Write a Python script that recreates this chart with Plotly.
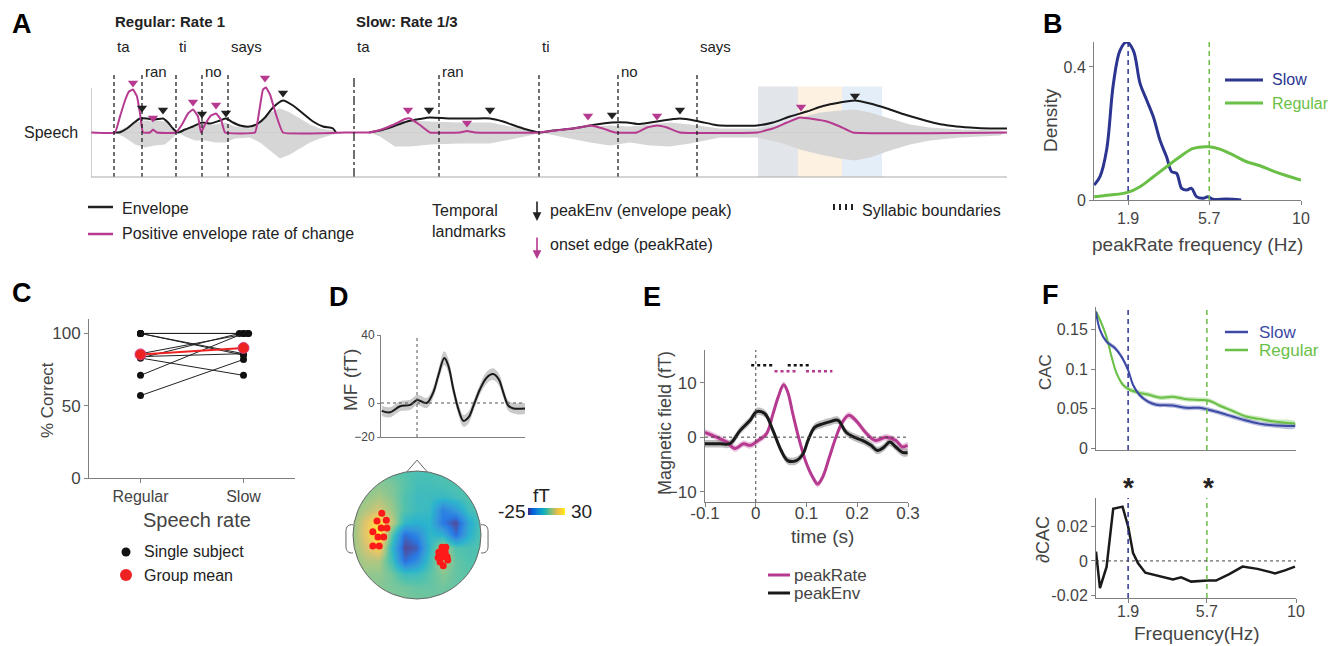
import math
import plotly.graph_objects as go

W, H = 1343, 646
FONT = "Liberation Sans, Arial, Helvetica, sans-serif"
TXT = "#222222"
GTXT = "#444444"
MAG = "#b63a8f"
BLUE_B = "#2c3590"
BLUE_F = "#3c4aa6"
GREEN = "#6abf46"
AXC = "#808080"

# ================= DATA =================
# ---- Panel A (time in ms, amplitude in a.u.) ----
syllables = ["ta", "ran", "ti", "no", "says"]
reg_bounds_ms = [23, 51, 85, 111, 137]
slow_bounds_ms = [263, 348, 448, 527, 606]

reg_env_t = [22, 24, 29, 36, 42, 49, 56, 64, 72, 77, 82, 87, 94, 102, 111, 119, 129, 135, 142, 149, 159, 167, 174, 182, 192, 202, 212, 222, 232, 242, 245]
reg_env = [0, 0, 0.3, 4, 9, 14, 14, 13, 14, 10, 4, 0, 3, 6, 10, 9, 12, 14, 10, 7, 6, 9, 15, 25, 32, 27, 19, 11, 6, 4, 0]
reg_rate_t = [0, 24, 29, 34, 38, 42, 46, 49, 52, 59, 62, 66, 85, 91, 97, 102, 107, 110, 114, 120, 125, 130, 134, 164, 168, 172, 175, 179, 185, 192, 254]
reg_rate = [0, 0, 16, 32, 41, 43, 36, 19, 0, 0, 3, 0, 0, 8, 19, 23, 16, 0, 8, 17, 19, 13, 0, 0, 20, 43, 45, 38, 18, 0, 0]
slow_env_t = [278, 289, 302, 316, 329, 339, 359, 382, 399, 412, 426, 439, 449, 462, 482, 502, 521, 536, 549, 566, 589, 606, 622, 629, 666, 682, 699, 716, 732, 749, 764, 779, 796, 812, 829, 846, 862, 879, 899, 916]
slow_env = [0, 2, 6, 11, 13.5, 15, 14, 14, 14, 11, 6, 2, 0, 2, 4, 7.5, 10, 10, 8.5, 11, 14, 11.5, 8, 7, 7, 10, 16, 21, 26.5, 30, 32, 29, 24, 18.5, 13.5, 9, 6.5, 5, 4, 4]
slow_rate_t = [254, 278, 289, 302, 314, 319, 329, 339, 369, 376, 384, 448, 469, 489, 499, 512, 524, 546, 556, 566, 576, 589, 666, 682, 696, 709, 722, 736, 749, 762, 916]
slow_rate = [0, 0, 2.5, 7.5, 13.5, 14, 7.5, 0, 0, 1.5, 0, 0, 2.5, 5, 7, 4, 0, 0, 5, 7, 5, 0, 0, 4, 10, 15, 13.5, 11, 6, 0, 0]

reg_wave_t = [24, 34, 44, 54, 64, 74, 82, 87, 94, 104, 114, 124, 134, 144, 159, 169, 179, 189, 199, 209, 219, 229, 242, 247]
reg_wave_up = [0, 5, 10, 12, 12, 11, 5, 0, 4, 7, 8, 8, 10, 6, 4, 10, 20, 24, 20, 14, 8, 4, 2, 0]
reg_wave_lo = [0, -5, -12, -15, -13, -12, -5, 0, -4, -8, -8, -10, -10, -6, -5, -10, -18, -26, -22, -16, -10, -6, -2, 0]
slow_wave_t = [278, 289, 304, 319, 339, 369, 399, 419, 439, 449, 469, 499, 519, 539, 559, 579, 599, 629, 666, 689, 709, 729, 749, 764, 779, 799, 819, 839, 869, 909, 916]
slow_wave_up = [0, 3, 10, 12, 11, 10, 10, 6, 2, 0, 3, 6, 7, 6, 8, 10, 8, 4, 4, 8, 15, 20, 22, 23, 20, 14, 8, 5, 3, 2, 0]
slow_wave_lo = [0, -4, -14, -14, -12, -11, -11, -7, -3, 0, -4, -10, -13, -10, -13, -14, -11, -5, -5, -10, -17, -22, -26, -28, -25, -18, -12, -8, -5, -3, 0]

peakenv_t = [51, 72, 111, 135, 192, 338, 399, 521, 589, 764]
peakenv_amp = [24.5, 22.5, 18.5, 19.5, 39.5, 22.5, 22.5, 17.5, 22.5, 36.5]
peakrate_t = [42, 62, 102, 125, 174, 317, 376, 497, 566, 710]
peakrate_amp = [49.5, 14.5, 30.5, 27.5, 54.5, 22.5, 9.5, 16.5, 16.5, 25.5]

win_edges_ms = [667, 707, 751, 791]
win_colors = ["#e2e5ea", "#fdf1e2", "#e4eef8"]

# ---- Panel B ----
b_freq_slow = [0.31, 0.58, 0.89, 1.21, 1.52, 1.83, 2.14, 2.46, 2.77, 3.08, 3.39, 3.70, 3.94, 4.17, 4.41, 4.64, 4.87, 5.10, 5.41, 5.64, 5.88, 6.50, 7.20]
b_dens_slow = [0.045, 0.07, 0.15, 0.35, 0.45, 0.475, 0.45, 0.35, 0.30, 0.25, 0.18, 0.13, 0.085, 0.08, 0.035, 0.03, 0.035, 0.01, 0.005, 0.01, 0.002, 0.003, 0.0]
b_freq_reg = [0.31, 1.05, 1.83, 2.46, 3.08, 3.70, 4.33, 4.95, 5.69, 6.20, 6.83, 7.45, 8.08, 8.70, 9.33, 10.0]
b_dens_reg = [0.01, 0.015, 0.022, 0.04, 0.07, 0.10, 0.13, 0.155, 0.16, 0.153, 0.135, 0.115, 0.103, 0.087, 0.073, 0.06]
rate_slow_hz = 1.9
rate_reg_hz = 5.7

# ---- Panel C ----
c_conditions = ["Regular", "Slow"]
c_reg = [100, 100, 100, 100, 86, 84, 83, 83, 71, 57]
c_slow = [100, 86, 100, 85, 100, 86, 71, 100, 100, 82]
c_slow_jitter = [0, 0, 0.04, 0, 0.05, 0, 0, -0.04, 0, 0]
c_mean = [85.5, 90]

# ---- Panel D ----
d_t = [-0.098, -0.075, -0.047, -0.019, 0.001, 0.027, 0.045, 0.059, 0.076, 0.087, 0.101, 0.115, 0.129, 0.143, 0.157, 0.175, 0.194, 0.211, 0.227, 0.24, 0.254, 0.268, 0.3]
d_mf = [-4.6, -5.5, -1.9, -1.1, 1.8, 0, 6.1, 16, 26.4, 22, 8.1, -3.6, -10.5, -8.5, -1.6, 8.1, 15, 17, 14, 6, -1.6, -3.2, -3.2]
d_sem = [3, 3, 3, 3, 3, 3, 3, 3.5, 4, 4, 3.5, 3.5, 3.5, 3.5, 3, 3, 3.5, 3.5, 3.5, 3, 3, 3, 3]
# topography grid (head coordinates, nose up), values in fT; rows bottom -> top
topo_u = [-1.0, -0.8, -0.6, -0.4, -0.2, 0.0, 0.2, 0.4, 0.6, 0.8, 1.0]
topo_v = [-1.0, -0.8, -0.6, -0.4, -0.2, 0.0, 0.2, 0.4, 0.6, 0.8, 1.0]
topo_ft = [
    [6, 6, 6, 6, 6, 5, 5, 4, 4, 4, 4],
    [6, 7, 7, 6, 5, 4, 4, 5, 4, 3, 3],
    [6, 8, 8, 5, -1, -1, 3, 7, 4, 3, 3],
    [7, 11, 11, 0, -20, -14, 0, 12, 4, 2, 2],
    [8, 15, 22, -3, -25, -22, -3, 11, 2, 1, 2],
    [8, 18, 29, 3, -20, -15, -3, -5, -20, -5, 2],
    [8, 17, 27, 13, -3, -5, -4, -18, -25, -7, 2],
    [7, 11, 15, 9, 2, -1, -2, -16, -10, 0, 2],
    [6, 8, 10, 7, 2, -1, -1, -2, 0, 2, 2],
    [5, 6, 7, 6, 3, 0, 0, 1, 2, 2, 2],
    [3, 3, 5, 3, 2, 1, 1, 2, 2, 2, 2],
]
sens_u = [-0.55, -0.625, -0.48, -0.56, -0.47, -0.69, -0.61, -0.52, -0.69, -0.59,
          0.39, 0.45, 0.34, 0.44, 0.39, 0.47, 0.36, 0.48, 0.41, 0.33]
sens_v = [0.34, 0.22, 0.23, 0.11, 0.11, 0.05, -0.03, -0.03, -0.17, -0.17,
          -0.19, -0.19, -0.27, -0.27, -0.34, -0.34, -0.42, -0.39, -0.48, -0.35]
cbar_ft = [-25, -20, -15, -10, -5, 0, 5, 10, 15, 20, 25, 30]

# ---- Panel E ----
e_t_env = [-0.1, -0.07, -0.051, -0.031, -0.011, 0.002, 0.018, 0.034, 0.05, 0.063, 0.08, 0.093, 0.103, 0.116, 0.132, 0.145, 0.162, 0.178, 0.194, 0.21, 0.227, 0.24, 0.253, 0.264, 0.276, 0.289, 0.299]
e_env = [-1.2, -1.2, -1.2, 1.2, 3.1, 4.7, 4.3, 1.2, -2.45, -4.3, -4.3, -3.1, -0.6, 1.8, 2.45, 2.8, 3.1, 0.9, 0, -0.6, -1.5, -2.45, -1.8, -0.9, -1.8, -2.8, -2.8]
e_t_rate = [-0.1, -0.077, -0.057, -0.041, -0.024, -0.011, 0.005, 0.021, 0.034, 0.044, 0.055, 0.063, 0.073, 0.086, 0.099, 0.112, 0.122, 0.132, 0.145, 0.158, 0.171, 0.183, 0.197, 0.216, 0.236, 0.256, 0.276, 0.289, 0.299]
e_rate = [0.9, 0, -0.9, -2.1, -1.2, -1.5, -0.6, 0.6, 4.3, 7.3, 9.6, 8.3, 4.3, -0.6, -4.6, -7.3, -8.6, -7.3, -3.7, 0, 2.8, 4.0, 3.1, 0.9, -0.6, 0, -0.6, -1.8, -1.5]
e_env_sem = 0.7
e_rate_sem = 0.6
e_sig_env = [(-0.009, 0.034), (0.063, 0.107)]
e_sig_rate = [(0.037, 0.080), (0.099, 0.151)]
e_sig_env_y = 13.2
e_sig_rate_y = 12.1

# ---- Panel F ----
f_freq_slow = [0.35, 0.54, 0.86, 1.26, 1.58, 1.9, 2.14, 2.46, 2.86, 3.26, 4.06, 4.7, 5.34, 5.74, 6.3, 6.94, 7.58, 8.22, 8.86, 9.95]
f_cac_slow = [0.173, 0.150, 0.135, 0.127, 0.116, 0.099, 0.08, 0.067, 0.059, 0.055, 0.054, 0.051, 0.051, 0.049, 0.045, 0.04, 0.035, 0.031, 0.029, 0.028]
f_freq_reg = [0.35, 0.62, 0.86, 1.1, 1.34, 1.66, 1.98, 2.46, 2.86, 3.42, 4.06, 4.7, 5.34, 5.82, 6.3, 6.94, 7.58, 8.22, 8.86, 9.95]
f_cac_reg = [0.173, 0.158, 0.141, 0.116, 0.095, 0.08, 0.074, 0.07, 0.068, 0.064, 0.065, 0.062, 0.061, 0.06, 0.054, 0.047, 0.04, 0.037, 0.034, 0.031]
f_cac_sem = 0.003
f_freq_diff = [0.35, 0.54, 0.86, 1.18, 1.63, 1.9, 2.14, 2.38, 2.73, 3.26, 4.06, 4.46, 4.94, 5.74, 6.14, 6.78, 7.42, 8.14, 8.99, 9.5, 9.95]
f_dcac = [0.0054, -0.0157, -0.0035, 0.0303, 0.0315, 0.0200, 0.0045, -0.0014, -0.0068, -0.0082, -0.0107, -0.0095, -0.012, -0.0114, -0.0114, -0.0076, -0.0033, -0.0046, -0.0072, -0.0053, -0.0033]

# ================= HELPERS =================
def dx(p0, p1):
    return [p0 / W, p1 / W]

def dy(top, bot):
    return [1 - bot / H, 1 - top / H]

def txt(s, x, y, size=16, color=TXT, xa="center", ya="middle", bold=False, angle=0):
    return dict(text=f"<b>{s}</b>" if bold else s, x=x / W, y=1 - y / H, xref="paper", yref="paper",
                showarrow=False, font=dict(size=size, color=color, family=FONT),
                xanchor=xa, yanchor=ya, textangle=angle)

def pline(x0, y0, x1, y1, color, width=1.0, dash=None):
    return dict(type="line", xref="paper", yref="paper", x0=x0 / W, y0=1 - y0 / H, x1=x1 / W, y1=1 - y1 / H,
                line=dict(color=color, width=width, dash=dash))

def dline(ax, x0, y0, x1, y1, color, width=1.0, dash=None, layer="above"):
    return dict(type="line", xref="x" + ax, yref="y" + ax, x0=x0, y0=y0, x1=x1, y1=y1,
                line=dict(color=color, width=width, dash=dash), layer=layer)

def band(x, y, sem, ax, color):
    if not isinstance(sem, list):
        sem = [sem] * len(x)
    up = [a + s for a, s in zip(y, sem)]
    lo = [a - s for a, s in zip(y, sem)]
    return go.Scatter(x=list(x) + list(x)[::-1], y=up + lo[::-1], fill="toself", fillcolor=color,
                      line=dict(width=0, shape="spline"), mode="lines", hoverinfo="skip",
                      xaxis="x" + ax, yaxis="y" + ax)

def axstyle(**kw):
    d = dict(showgrid=False, zeroline=False, showline=True, linecolor=AXC, linewidth=1,
             ticks="outside", ticklen=4, tickcolor=AXC,
             tickfont=dict(size=16, color=GTXT, family=FONT), fixedrange=True)
    d.update(kw)
    return d

traces = []
shapes = []
anns = []

# ================= PANEL A =================
for t, up, lo in [(reg_wave_t, reg_wave_up, reg_wave_lo), (slow_wave_t, slow_wave_up, slow_wave_lo)]:
    traces.append(go.Scatter(x=t + t[::-1], y=up + lo[::-1], fill="toself", fillcolor="#d6d6d6",
                             line=dict(width=0), mode="lines", xaxis="x", yaxis="y"))
traces.append(go.Scatter(x=[0, 916], y=[0, 0], mode="lines", line=dict(color="#cfcfcf", width=1), xaxis="x", yaxis="y"))
for t, v in [(reg_env_t, reg_env), (slow_env_t, slow_env)]:
    traces.append(go.Scatter(x=t, y=v, mode="lines", line=dict(color="#1a1a1a", width=2, shape="spline", smoothing=0.6),
                             xaxis="x", yaxis="y"))
for t, v in [(reg_rate_t, reg_rate), (slow_rate_t, slow_rate)]:
    traces.append(go.Scatter(x=t, y=v, mode="lines", line=dict(color=MAG, width=2, shape="spline", smoothing=0.3),
                             xaxis="x", yaxis="y"))
traces.append(go.Scatter(x=peakenv_t, y=peakenv_amp, mode="markers",
                         marker=dict(symbol="triangle-down", size=9, color="#222222"), xaxis="x", yaxis="y"))
traces.append(go.Scatter(x=peakrate_t, y=peakrate_amp, mode="markers",
                         marker=dict(symbol="triangle-down", size=9, color=MAG), xaxis="x", yaxis="y"))

for i, c in enumerate(win_colors):
    shapes.append(dict(type="rect", xref="x", yref="y", x0=win_edges_ms[i], x1=win_edges_ms[i + 1],
                       y0=-44.5, y1=46, fillcolor=c, line=dict(width=0), layer="below"))
for i, b in enumerate(reg_bounds_ms + slow_bounds_ms):
    dash = "dashdot" if i == 5 else "4px,3px"
    shapes.append(dline("", b, -44.5, b, 57.5, "#111111", 1.2, dash))
shapes.append(dline("", 0, -44.5, 0, 44.5, "#999999", 1))
shapes.append(dline("", -1, -44.5, 916, -44.5, "#aaaaaa", 1))

for bounds in (reg_bounds_ms, slow_bounds_ms):
    for i, (b, s) in enumerate(zip(bounds, syllables)):
        yy = 71 if i in (1, 3) else 46
        anns.append(dict(text=s, x=b + 1, y=1 - yy / H, xref="x", yref="paper", showarrow=False,
                         xanchor="left", yanchor="middle", font=dict(size=15, color=TXT, family=FONT)))
anns.append(txt("Regular: Rate 1", 113, 21, 15, xa="left", bold=True))
anns.append(txt("Slow: Rate 1/3", 354, 21, 15, xa="left", bold=True))
anns.append(txt("Speech", 80, 132, 16, xa="right"))

# A legend
shapes.append(pline(88, 207, 113, 207, "#222222", 2.5))
shapes.append(pline(88, 234, 113, 234, MAG, 2.5))
anns.append(txt("Envelope", 120, 209, 16, xa="left"))
anns.append(txt("Positive envelope rate of change", 120, 234, 16, xa="left"))
anns.append(txt("Temporal", 430, 210, 16, xa="left"))
anns.append(txt("landmarks", 430, 232, 16, xa="left"))
anns.append(txt("peakEnv (envelope peak)", 548, 210, 16, xa="left"))
anns.append(txt("onset edge (peakRate)", 548, 245, 16, xa="left"))
anns.append(txt("Syllabic boundaries", 860, 210, 16, xa="left"))
for xx in (834, 840, 846, 852):
    shapes.append(pline(xx, 204, xx, 210, "#222222", 2))
for (yh, yt, col) in [(221, 200, "#222222"), (259, 236, MAG)]:
    anns.append(dict(x=537 / W, y=1 - yh / H, ax=0, ay=yt - yh, xref="paper", yref="paper",
                     axref="pixel", ayref="pixel", showarrow=True, arrowhead=2, arrowsize=1.1,
                     arrowwidth=1.6, arrowcolor=col, text=""))

# ================= PANEL B =================
traces.append(go.Scatter(x=b_freq_slow, y=b_dens_slow, mode="lines",
                         line=dict(color=BLUE_B, width=3, shape="spline"), xaxis="x2", yaxis="y2"))
traces.append(go.Scatter(x=b_freq_reg, y=b_dens_reg, mode="lines",
                         line=dict(color=GREEN, width=3, shape="spline"), xaxis="x2", yaxis="y2"))
shapes.append(dline("2", rate_slow_hz, 0, rate_slow_hz, 0.475, BLUE_B, 1.5, "5px,4px"))
shapes.append(dline("2", rate_reg_hz, 0, rate_reg_hz, 0.475, GREEN, 1.5, "5px,4px"))
shapes.append(pline(1225, 80, 1263, 80, BLUE_B, 3))
shapes.append(pline(1225, 103, 1263, 103, GREEN, 3))
anns.append(txt("Slow", 1270, 80, 16, BLUE_B, xa="left"))
anns.append(txt("Regular", 1270, 103, 16, GREEN, xa="left"))
anns.append(txt("Density", 1050, 120, 19, GTXT, angle=-90))
anns.append(txt("peakRate frequency (Hz)", 1197, 245, 19, GTXT))

# ================= PANEL C =================
for i in range(len(c_reg)):
    traces.append(go.Scatter(x=[1, 2 + c_slow_jitter[i]], y=[c_reg[i], c_slow[i]], mode="lines+markers",
                             line=dict(color="#222222", width=1), marker=dict(size=7, color="#111111"),
                             xaxis="x3", yaxis="y3"))
traces.append(go.Scatter(x=[1, 2], y=c_mean, mode="lines+markers", line=dict(color="#ee2222", width=2),
                         marker=dict(size=11, color="#ee2222", line=dict(color="#d04080", width=1)),
                         xaxis="x3", yaxis="y3"))
anns.append(txt("% Correct", 47, 400, 17, GTXT, angle=-90))
anns.append(txt("Speech rate", 197, 520, 20, GTXT))
shapes.append(dict(type="circle", xref="paper", yref="paper", x0=121.5 / W, x1=130.5 / W,
                   y0=1 - 556.5 / H, y1=1 - 547.5 / H, fillcolor="#111111", line=dict(width=0)))
shapes.append(dict(type="circle", xref="paper", yref="paper", x0=120 / W, x1=132 / W,
                   y0=1 - 581 / H, y1=1 - 569 / H, fillcolor="#ee2222", line=dict(width=0)))
anns.append(txt("Single subject", 142, 551, 16, xa="left"))
anns.append(txt("Group mean", 142, 575, 16, xa="left"))

# ================= PANEL D =================
traces.append(band(d_t, d_mf, d_sem, "4", "rgba(150,150,150,0.5)"))
traces.append(go.Scatter(x=d_t, y=d_mf, mode="lines", line=dict(color="#1a1a1a", width=2, shape="spline"),
                         xaxis="x4", yaxis="y4"))
shapes.append(dline("4", 0, -20, 0, 40, "#555555", 1, "dot"))
shapes.append(dline("4", -0.1, 0, 0.3, 0, "#555555", 1, "dot"))
anns.append(txt("MF (fT)", 350, 380, 19, GTXT, angle=-90))

parula = [[0.0, "#352A87"], [0.125, "#0363E1"], [0.25, "#1485D4"], [0.375, "#06A7C6"],
          [0.5, "#38B99E"], [0.625, "#92BF73"], [0.75, "#D9BA56"], [0.875, "#FCCE2E"], [1.0, "#F9FB0E"]]
traces.append(go.Heatmap(x=topo_u, y=topo_v, z=topo_ft, zmin=-25, zmax=30, colorscale=parula,
                         zsmooth="best", showscale=False, opacity=0.85, xaxis="x5", yaxis="y5"))
traces.append(go.Scatter(x=sens_u, y=sens_v, mode="markers", marker=dict(size=7, color="#ff1a1a"),
                         xaxis="x5", yaxis="y5"))
# colour bar drawn as its own small heatmap
traces.append(go.Heatmap(x=cbar_ft, y=[0], z=[cbar_ft], zmin=-25, zmax=30, colorscale=parula,
                         zsmooth="best", showscale=False, xaxis="x9", yaxis="y9"))
R = 1.2
circ = [(math.cos(math.radians(a)), math.sin(math.radians(a))) for a in range(0, -361, -5)]
mask = f"M {-R},{-R} L {R},{-R} L {R},{R} L {-R},{R} Z M " + " L ".join(f"{c:.4f},{s:.4f}" for c, s in circ) + " Z"
shapes.append(dict(type="path", xref="x5", yref="y5", path=mask, fillcolor="white", line=dict(width=0), layer="above"))
shapes.append(dict(type="circle", xref="x5", yref="y5", x0=-1, y0=-1, x1=1, y1=1, line=dict(color="#666666", width=1), layer="above"))
shapes.append(dict(type="path", xref="x5", yref="y5", path="M -0.16,0.987 L 0,1.17 L 0.16,0.987",
                   line=dict(color="#666666", width=1), layer="above"))
shapes.append(dict(type="path", xref="x5", yref="y5",
                   path="M -1.0,0.16 C -1.07,0.17 -1.11,0.13 -1.11,0.06 L -1.11,-0.18 C -1.11,-0.25 -1.07,-0.29 -1.0,-0.28",
                   line=dict(color="#666666", width=1), layer="above"))
shapes.append(dict(type="path", xref="x5", yref="y5",
                   path="M 1.0,0.16 C 1.07,0.17 1.11,0.13 1.11,0.06 L 1.11,-0.18 C 1.11,-0.25 1.07,-0.29 1.0,-0.28",
                   line=dict(color="#666666", width=1), layer="above"))
anns.append(txt("fT", 541, 495, 19))
anns.append(txt("-25", 527, 511, 19, xa="right"))
anns.append(txt("30", 569, 511, 19, xa="left"))

# ================= PANEL E =================
traces.append(band(e_t_rate, e_rate, e_rate_sem, "6", "rgba(200,90,165,0.35)"))
traces.append(band(e_t_env, e_env, e_env_sem, "6", "rgba(110,110,110,0.45)"))
traces.append(go.Scatter(x=e_t_rate, y=e_rate, mode="lines", line=dict(color=MAG, width=3, shape="spline"),
                         xaxis="x6", yaxis="y6"))
traces.append(go.Scatter(x=e_t_env, y=e_env, mode="lines", line=dict(color="#1a1a1a", width=3, shape="spline"),
                         xaxis="x6", yaxis="y6"))
shapes.append(dline("6", 0, -11.9, 0, 16, "#444444", 1, "dot"))
shapes.append(dline("6", -0.1, 0, 0.3, 0, "#444444", 1, "dot"))
for a, b in e_sig_env:
    shapes.append(dline("6", a, e_sig_env_y, b, e_sig_env_y, "#111111", 2.5, "dot"))
for a, b in e_sig_rate:
    shapes.append(dline("6", a, e_sig_rate_y, b, e_sig_rate_y, MAG, 2.5, "dot"))
anns.append(txt("Magnetic field (fT)", 665, 423, 18, GTXT, angle=-90))
anns.append(txt("time (s)", 822, 536, 19, GTXT))
shapes.append(pline(768, 575, 790, 575, MAG, 3))
shapes.append(pline(768, 593, 790, 593, "#1a1a1a", 3))
anns.append(txt("peakRate", 792, 575, 17, GTXT, xa="left"))
anns.append(txt("peakEnv", 792, 593, 17, GTXT, xa="left"))

# ================= PANEL F =================
traces.append(band(f_freq_reg, f_cac_reg, f_cac_sem, "7", "rgba(106,191,70,0.35)"))
traces.append(band(f_freq_slow, f_cac_slow, f_cac_sem, "7", "rgba(60,74,166,0.35)"))
traces.append(go.Scatter(x=f_freq_reg, y=f_cac_reg, mode="lines", line=dict(color=GREEN, width=2, shape="spline"),
                         xaxis="x7", yaxis="y7"))
traces.append(go.Scatter(x=f_freq_slow, y=f_cac_slow, mode="lines", line=dict(color=BLUE_F, width=2, shape="spline"),
                         xaxis="x7", yaxis="y7"))
traces.append(go.Scatter(x=f_freq_diff, y=f_dcac, mode="lines", line=dict(color="#1a1a1a", width=2.5),
                         xaxis="x8", yaxis="y8"))
shapes.append(dline("7", rate_slow_hz, -0.0025, rate_slow_hz, 0.179, "#2c3590", 1.5, "5px,4px"))
shapes.append(dline("7", rate_reg_hz, -0.0025, rate_reg_hz, 0.179, GREEN, 1.5, "5px,4px"))
shapes.append(dline("8", rate_slow_hz, -0.0215, rate_slow_hz, 0.0365, "#2c3590", 1.5, "5px,4px"))
shapes.append(dline("8", rate_reg_hz, -0.0215, rate_reg_hz, 0.0365, GREEN, 1.5, "5px,4px"))
shapes.append(dline("8", 0.35, 0, 10, 0, "#444444", 1, "dot"))
anns.append(txt("*", 1128, 488, 28, TXT, bold=True))
anns.append(txt("*", 1208, 488, 28, TXT, bold=True))
shapes.append(pline(1225, 332, 1248, 332, BLUE_F, 2.5))
shapes.append(pline(1225, 350, 1248, 350, GREEN, 2.5))
anns.append(txt("Slow", 1257, 332, 17, BLUE_F, xa="left"))
anns.append(txt("Regular", 1257, 350, 17, GREEN, xa="left"))
anns.append(txt("CAC", 1045, 372, 17, GTXT, angle=-90))
anns.append(txt("∂CAC", 1043, 540, 18, GTXT, angle=-90))
anns.append(txt("Frequency(Hz)", 1197, 633, 19, GTXT))

# ================= Panel letters =================
for L, x, y in [("A", 10, 24), ("B", 1041, 24), ("C", 10, 293), ("D", 327, 297), ("E", 641, 297), ("F", 1040, 295)]:
    anns.append(txt(L, x, y, 27, "#000000", xa="left", bold=True))

# ================= LAYOUT =================
hidden = dict(visible=False, fixedrange=True)
layout = dict(
    width=W, height=H, margin=dict(l=0, r=0, t=0, b=0, autoexpand=False), showlegend=False,
    plot_bgcolor="white", paper_bgcolor="white", font=dict(family=FONT),
    xaxis=dict(hidden, domain=dx(91, 1008), range=[0, 917], anchor="y"),
    yaxis=dict(hidden, domain=dy(70, 178), range=[-45.5, 62.5], anchor="x"),
    xaxis2=axstyle(domain=dx(1094, 1301), range=[0.3, 10], tickvals=[1.9, 5.7, 10], anchor="y2"),
    yaxis2=axstyle(domain=dy(42, 200), range=[0, 0.475], tickvals=[0, 0.4], anchor="x2"),
    xaxis3=axstyle(domain=dx(89, 295), range=[0.5, 2.5], tickvals=[1, 2], ticktext=c_conditions, anchor="y3",
                   tickfont=dict(size=16, color=GTXT, family=FONT)),
    yaxis3=axstyle(domain=dy(319, 478), range=[0, 110], tickvals=[0, 50, 100], anchor="x3",
                   tickfont=dict(size=17, color=GTXT, family=FONT)),
    xaxis4=axstyle(domain=dx(381, 525), range=[-0.1, 0.3], showticklabels=False, ticks="", anchor="y4"),
    yaxis4=axstyle(domain=dy(335, 437), range=[-20, 40], tickvals=[-20, 0, 40], anchor="x4",
                   tickfont=dict(size=12, color=GTXT, family=FONT), ticklen=3),
    xaxis5=dict(hidden, domain=dx(340.2, 493.8), range=[-1.2, 1.2], anchor="y5"),
    yaxis5=dict(hidden, domain=dy(458.2, 611.8), range=[-1.2, 1.2], anchor="x5"),
    xaxis6=axstyle(domain=dx(705, 908), range=[-0.1, 0.3], tickvals=[-0.1, 0, 0.1, 0.2, 0.3],
                   ticktext=["-0.1", "0", "0.1", "0.2", "0.3"], anchor="y6", ticklabelstandoff=-8,
                   tickfont=dict(size=17, color=GTXT, family=FONT)),
    yaxis6=axstyle(domain=dy(350, 502), range=[-11.9, 16], tickvals=[-10, 0, 10], anchor="x6",
                   tickfont=dict(size=17, color=GTXT, family=FONT)),
    xaxis7=axstyle(domain=dx(1096, 1296), range=[0.35, 10], showticklabels=False, ticks="", anchor="y7"),
    yaxis7=axstyle(domain=dy(307, 450), range=[-0.0025, 0.179], tickvals=[0, 0.05, 0.1, 0.15],
                   ticktext=["0", "0.05", "0.1", "0.15"], anchor="x7"),
    xaxis8=axstyle(domain=dx(1096, 1296), range=[0.35, 10], tickvals=[1.9, 5.7, 10], anchor="y8",
                   ticklabelstandoff=-5),
    yaxis8=axstyle(domain=dy(498, 598), range=[-0.0215, 0.0365], tickvals=[-0.02, 0, 0.02],
                   ticktext=["-0.02", "0", "0.02"], anchor="x8"),
    xaxis9=dict(hidden, domain=dx(528, 565), range=[-25, 30], anchor="y9"),
    yaxis9=dict(hidden, domain=dy(508, 515), range=[-0.5, 0.5], anchor="x9"),
    shapes=shapes, annotations=anns,
)

fig = go.Figure(data=traces, layout=layout)
fig.update_traces(hoverinfo="skip")
fig.write_html("out.html", config={"displayModeBar": False},
               post_script="document.body.style.margin='0px';")
